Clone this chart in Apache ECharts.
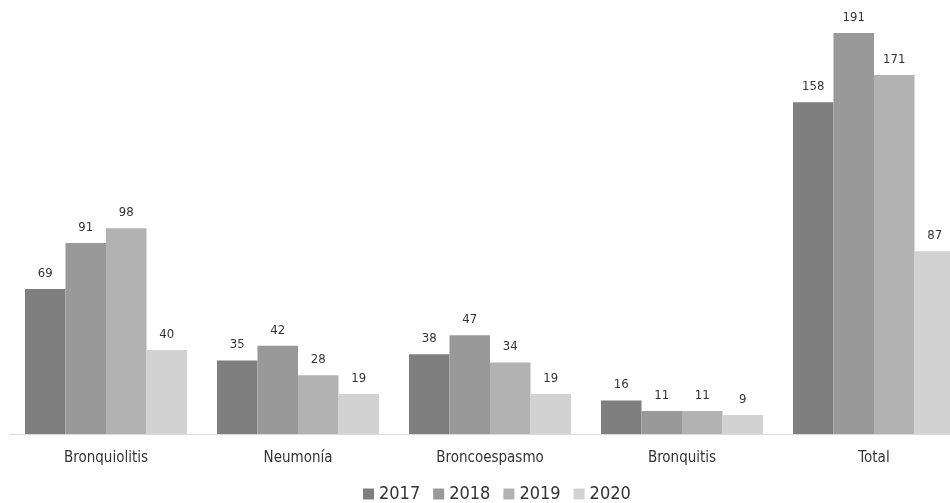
<!DOCTYPE html>
<html><head><meta charset="utf-8">
<script src="https://cdn.jsdelivr.net/npm/echarts@6/dist/echarts.min.js"></script>
<style>html,body{margin:0;padding:0;background:#fff}#c{width:950px;height:503px}</style>
</head><body><div id="c"></div>
<script>
const categories = ['Bronquiolitis', 'Neumonía', 'Broncoespasmo', 'Bronquitis', 'Total'];
const years = ['2017', '2018', '2019', '2020'];
const v2017 = [69, 35, 38, 16, 158];
const v2018 = [91, 42, 47, 11, 191];
const v2019 = [98, 28, 34, 11, 171];
const v2020 = [40, 19, 19, 9, 87];
const colors = ['#7f7f7f', '#999999', '#b2b2b2', '#d2d2d2'];
const FONT = '"Liberation Sans Narrow", "DejaVu Sans Condensed", sans-serif';
const values = [v2017, v2018, v2019, v2020];
const chart = echarts.init(document.getElementById('c'));
chart.setOption({
  animation: false,
  color: colors,
  grid: {left: 10, right: -20, top: 14, bottom: 69, outerBoundsMode: 'none', containLabel: false},
  legend: {
    top: 480, left: 358, itemWidth: 11, itemHeight: 11, itemGap: 13,
    icon: 'rect',
    textStyle: {fontFamily: FONT, fontSize: 18, color: '#333'},
    data: years
  },
  xAxis: {
    type: 'category', data: categories,
    axisLine: {lineStyle: {color: '#d9d9d9'}},
    axisTick: {show: false},
    axisLabel: {fontFamily: FONT, fontSize: 15, color: '#333', margin: 17}
  },
  yAxis: {type: 'value', min: 0, max: 200, show: false, splitLine: {show: false}},
  series: years.map((y, i) => ({
    name: y, type: 'bar', data: values[i],
    barGap: '0%', barCategoryGap: '15.6%',
    label: {show: true, position: 'top', distance: 9, fontFamily: FONT, fontSize: 13, color: '#333'}
  }))
});
</script></body></html>
